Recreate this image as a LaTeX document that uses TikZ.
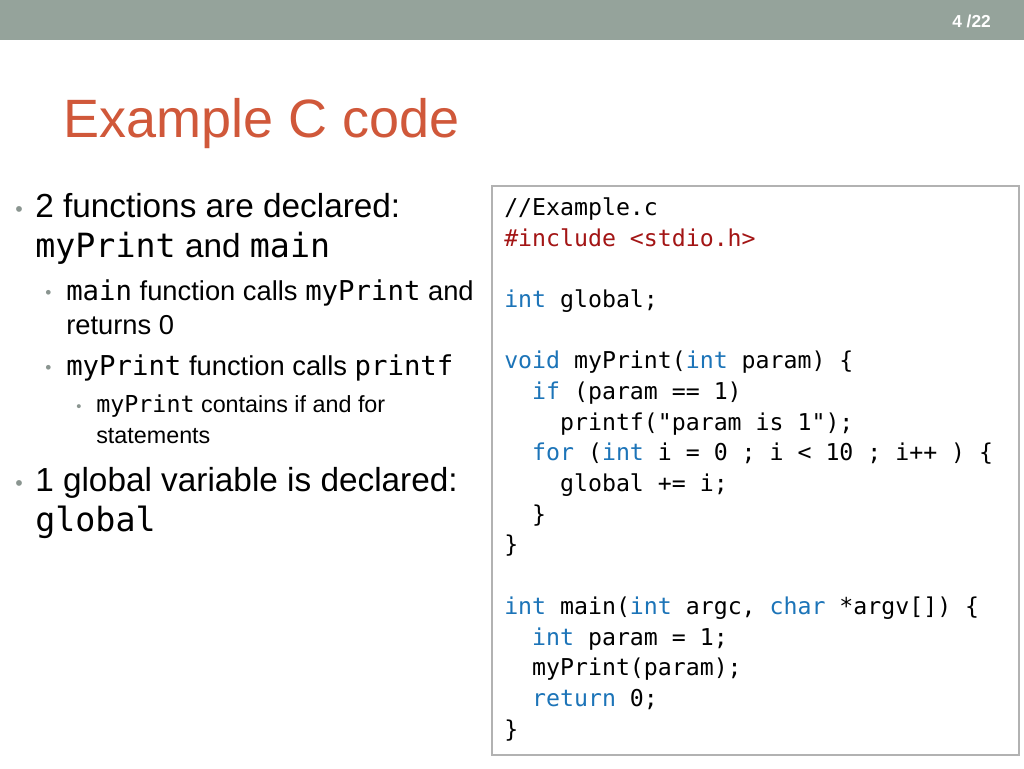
\documentclass[tikz,border=0pt]{standalone}
\usepackage{fontspec}
\setmainfont{Liberation Sans}
\setmonofont{DejaVu Sans Mono}
\definecolor{barcol}{HTML}{95A39B}
\definecolor{titlecol}{HTML}{D0583A}
\definecolor{kwcol}{HTML}{1C74B8}
\definecolor{inccol}{HTML}{A31515}
\definecolor{dotcol}{HTML}{8A9590}
\begin{document}
\begin{tikzpicture}[x=0.75pt,y=-0.75pt]
        \tikzstyle{txt} = [anchor=base west, inner sep=0pt]
        \tikzstyle{big} = [txt, font=\fontsize{25}{30}\selectfont]
        \tikzstyle{mid} = [txt, font=\fontsize{20.5}{24}\selectfont]
        \tikzstyle{small} = [txt, font=\fontsize{17.5}{21}\selectfont]
        \tikzstyle{dot} = [txt, text=dotcol]
        \tikzstyle{code} = [txt, font=\ttfamily\fontsize{17.4}{21}\selectfont]
        \newcommand{\kw}[1]{\textcolor{kwcol}{#1}}
        \useasboundingbox (0,0) rectangle (1024,768);
        \fill[white] (0,0) rectangle (1024,768);
        \fill[barcol] (0,0) rectangle (1024,40);
        \node (page) [txt, text=white, font=\bfseries\fontsize{13}{15}\selectfont] at (952,27) {4 /22};
        \node (title) [txt, text=titlecol, font=\fontsize{40.5}{46}\selectfont] at (63,137) {Example C code};
        % left column
        \node (d1) [dot, font=\fontsize{16}{20}\selectfont] at (15,216) {•};
        \node (l1) [big] at (35,217) {2 functions are declared:};
        \node (l2) [big] at (35,257) {\texttt{myPrint} and \texttt{main}};
        \node (d2) [dot, font=\fontsize{13}{16}\selectfont] at (45,298) {•};
        \node (l3) [mid] at (66,300) {\texttt{main} function calls \texttt{myPrint} and};
        \node (l4) [mid] at (66,334) {returns 0};
        \node (d3) [dot, font=\fontsize{13}{16}\selectfont] at (45,373) {•};
        \node (l5) [mid] at (66,375) {\texttt{myPrint} function calls \texttt{printf}};
        \node (d4) [dot, font=\fontsize{11}{14}\selectfont] at (76,411) {•};
        \node (l6) [small] at (96,412) {\texttt{myPrint} contains if and for};
        \node (l7) [small] at (96,443) {statements};
        \node (d5) [dot, font=\fontsize{16}{20}\selectfont] at (15,490) {•};
        \node (l8) [big] at (35,491) {1 global variable is declared:};
        \node (l9) [big] at (35,531) {\texttt{global}};
        % code box
        \draw[gray!60, line width=1pt] (492,186) rectangle (1019,755);
        \node (c1) [code] at (504,215) {//Example.c};
        \node (c2) [code, text=inccol] at (504,246) {\#include <stdio.h>};
        \node (c3) [code] at (504,307) {\kw{int} global;};
        \node (c4) [code] at (504,368) {\kw{void} myPrint(\kw{int} param) \{};
        \node (c5) [code] at (504,399) {\ \ \kw{if} (param == 1)};
        \node (c6) [code] at (504,430) {\ \ \ \ printf("param is 1");};
        \node (c7) [code] at (504,460) {\ \ \kw{for} (\kw{int} i = 0 ; i < 10 ; i++ ) \{};
        \node (c8) [code] at (504,491) {\ \ \ \ global += i;};
        \node (c9) [code] at (504,522) {\ \ \}};
        \node (c10) [code] at (504,552) {\}};
        \node (c11) [code] at (504,614) {\kw{int} main(\kw{int} argc, \kw{char} *argv[]) \{};
        \node (c12) [code] at (504,645) {\ \ \kw{int} param = 1;};
        \node (c13) [code] at (504,675) {\ \ myPrint(param);};
        \node (c14) [code] at (504,706) {\ \ \kw{return} 0;};
        \node (c15) [code] at (504,737) {\}};
\end{tikzpicture}
\end{document}
